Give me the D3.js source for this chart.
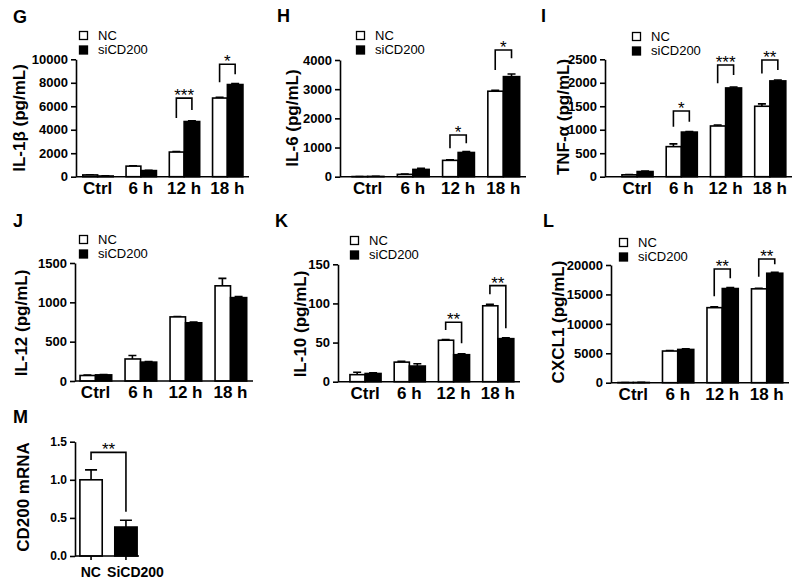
<!DOCTYPE html>
<html><head><meta charset="utf-8">
<script src="https://cdn.jsdelivr.net/npm/d3@7"></script>
<style>
html,body{margin:0;padding:0;background:#fff;}
svg{display:block;font-family:"Liberation Sans",Arial,Helvetica,sans-serif;}
</style></head>
<body>
<svg id="chart" width="799" height="583"></svg>
<script>
// ---------- DATA ----------
const categories = ["Ctrl", "6 h", "12 h", "18 h"];
const seriesNames = ["NC", "siCD200"];

// G: IL-1β
const il1bNC = [150, 900, 2100, 6700];
const il1bNCErr = [20, 30, 40, 60];
const il1bSi = [60, 520, 4700, 7850];
const il1bSiErr = [10, 20, 60, 80];
const il1bTicks = [0, 2000, 4000, 6000, 8000, 10000];
const il1bSig = [["12 h", "***", 6695, 5000, 5678], ["18 h", "*", 9576, 8051, 8729]];

// H: IL-6
const il6NC = [5, 80, 560, 2930];
const il6NCErr = [2, 10, 20, 30];
const il6Si = [10, 250, 830, 3430];
const il6SiErr = [3, 40, 30, 90];
const il6Ticks = [0, 1000, 2000, 3000, 4000];
const il6Sig = [["12 h", "*", 1429, 972, 1143], ["18 h", "*", 4343, 3657, 4057]];

// I: TNF-α
const tnfNC = [40, 640, 1080, 1500];
const tnfNCErr = [5, 60, 20, 50];
const tnfSi = [110, 950, 1890, 2040];
const tnfSiErr = [10, 10, 20, 20];
const tnfTicks = [0, 500, 1000, 1500, 2000, 2500];
const tnfSig = [["6 h", "*", 1399, 1065, 1171], ["12 h", "***", 2379, 1989, 2166], ["18 h", "**", 2485, 2200, 2272]];

// J: IL-12
const il12NC = [70, 280, 815, 1210];
const il12NCErr = [5, 45, 5, 95];
const il12Si = [78, 240, 740, 1060];
const il12SiErr = [3, 8, 8, 12];
const il12Ticks = [0, 500, 1000, 1500];
const il12Sig = [];

// K: IL-10
const il10NC = [9, 25, 53, 97];
const il10NCErr = [3, 1, 1, 2];
const il10Si = [10.5, 20, 34.5, 55];
const il10SiErr = [1, 3, 1, 1];
const il10Ticks = [0, 50, 100, 150];
const il10Sig = [["12 h", "**", 75.9, 66, 49], ["18 h", "**", 122.7, 111.7, 68.2]];

// L: CXCL1
const cxcl1NC = [30, 5380, 12750, 15950];
const cxcl1NCErr = [10, 80, 150, 100];
const cxcl1Si = [40, 5650, 16000, 18600];
const cxcl1SiErr = [10, 100, 150, 150];
const cxcl1Ticks = [0, 5000, 10000, 15000, 20000];
const cxcl1Sig = [["12 h", "**", 19320, 14670, 17740], ["18 h", "**", 21020, 18010, 20120]];

// M: CD200 mRNA
const mCategories = ["NC", "SiCD200"];
const mValues = [1.0, 0.38];
const mErr = [0.13, 0.09];
const mTicks = [0, 0.5, 1.0, 1.5];
const mSig = ["**", 1.36, 1.26, 0.58];

// ---------- LAYOUT ----------
const panels = [
  {letter:"G", lx:13, ly:23, title:"IL-1β (pg/mL)", tx:19, ty:118, axisX:76, b0:76, b1:249, yb:176.7, yt:59.3, max:10000, ticks:il1bTicks, nc:il1bNC, ncE:il1bNCErr, si:il1bSi, siE:il1bSiErr, sig:il1bSig, legX:79, legY:31},
  {letter:"H", lx:277, ly:22, title:"IL-6 (pg/mL)", tx:292, ty:118, axisX:340, b0:345, b1:526, yb:176.7, yt:60, max:4000, ticks:il6Ticks, nc:il6NC, ncE:il6NCErr, si:il6Si, siE:il6SiErr, sig:il6Sig, legX:356, legY:31},
  {letter:"I", lx:541, ly:22, title:"TNF-α (pg/mL)", tx:563, ty:117, axisX:605, b0:615, b1:792, yb:176.7, yt:59.3, max:2500, ticks:tnfTicks, nc:tnfNC, ncE:tnfNCErr, si:tnfSi, siE:tnfSiErr, sig:tnfSig, legX:632, legY:32},
  {letter:"J", lx:13, ly:227, title:"IL-12 (pg/mL)", tx:21, ty:323, axisX:75, b0:73, b1:253, yb:381, yt:263, max:1500, ticks:il12Ticks, nc:il12NC, ncE:il12NCErr, si:il12Si, siE:il12SiErr, sig:il12Sig, legX:79, legY:235},
  {letter:"K", lx:275, ly:227, title:"IL-10 (pg/mL)", tx:300, ty:324, axisX:338, b0:343, b1:520, yb:381.7, yt:264.3, max:150, ticks:il10Ticks, nc:il10NC, ncE:il10NCErr, si:il10Si, siE:il10SiErr, sig:il10Sig, legX:350, legY:236},
  {letter:"L", lx:543, ly:227, title:"CXCL1 (pg/mL)", tx:558, ty:322, axisX:611, b0:611, b1:789, yb:382.7, yt:265, max:20000, ticks:cxcl1Ticks, nc:cxcl1NC, ncE:cxcl1NCErr, si:cxcl1Si, siE:cxcl1SiErr, sig:cxcl1Sig, legX:619, legY:238}
];

const svg = d3.select("#chart");
const SW = 1.6;
const FONT = "Liberation Sans, Arial, sans-serif";

function drawBracket(g, xl, xr, yTop, yL, yR, label) {
  g.append("path")
    .attr("d", `M${xl},${yL}V${yTop}H${xr}V${yR}`)
    .attr("fill", "none").attr("stroke", "#000").attr("stroke-width", SW);
  g.append("text").attr("x", (xl + xr) / 2).attr("y", yTop + 3)
    .attr("text-anchor", "middle").attr("font-size", 17).text(label);
}

function yAxis(g, p, y, fmt, fs) {
  const ax = g.append("g").attr("transform", `translate(${p.axisX},0)`)
    .call(d3.axisLeft(y).tickValues(p.ticks).tickSize(5).tickSizeOuter(0).tickPadding(3).tickFormat(fmt));
  ax.select(".domain").attr("stroke-width", SW);
  ax.selectAll(".tick line").attr("stroke-width", SW);
  ax.selectAll("text").attr("font-size", fs).attr("font-weight", "bold").attr("fill", "#000")
    .attr("font-family", FONT);
}

function letterAndTitle(p) {
  svg.append("text").attr("x", p.lx).attr("y", p.ly).attr("font-size", 18).attr("font-weight", "bold").text(p.letter);
  svg.append("text").attr("transform", `translate(${p.tx},${p.ty}) rotate(-90)`)
    .attr("text-anchor", "middle").attr("dy", "0.36em").attr("font-size", 17).attr("font-weight", "bold").text(p.title);
}

panels.forEach(p => {
  const g = svg.append("g");
  letterAndTitle(p);
  const x = d3.scaleBand().domain(categories).range([p.b0, p.b1]).paddingInner(0.28).paddingOuter(0.14);
  const xs = d3.scaleBand().domain(seriesNames).range([0, x.bandwidth()]);
  const y = d3.scaleLinear().domain([0, p.max]).range([p.yb, p.yt]);

  const rows = categories.map((c, i) => ({c, vals: [
    {s: "NC", v: p.nc[i], e: p.ncE[i]},
    {s: "siCD200", v: p.si[i], e: p.siE[i]}
  ]}));

  // error bars (up only)
  rows.forEach(r => r.vals.forEach(d => {
    const cx = x(r.c) + xs(d.s) + xs.bandwidth() / 2;
    g.append("path").attr("d", `M${cx},${y(d.v)}V${y(d.v + d.e)}M${cx - 4},${y(d.v + d.e)}H${cx + 4}`)
      .attr("stroke", "#000").attr("stroke-width", SW).attr("fill", "none");
  }));
  // bars
  rows.forEach(r => r.vals.forEach(d => {
    g.append("rect")
      .attr("x", x(r.c) + xs(d.s) + (d.s === "NC" ? 0.75 : 0))
      .attr("y", y(d.v))
      .attr("width", xs.bandwidth() - (d.s === "NC" ? 0.75 : 0))
      .attr("height", Math.max(0, y(0) - y(d.v)))
      .attr("fill", d.s === "NC" ? "#fff" : "#000")
      .attr("stroke", "#000").attr("stroke-width", SW);
  }));

  yAxis(g, p, y, d3.format("d"), 13);

  // x axis
  const xa = g.append("g").attr("transform", `translate(0,${p.yb})`)
    .call(d3.axisBottom(x).tickSize(0).tickPadding(5));
  xa.select(".domain").remove();
  xa.selectAll("text").attr("font-size", 17).attr("font-weight", "bold").attr("fill", "#000")
    .attr("font-family", FONT);
  g.append("line").attr("x1", p.axisX).attr("x2", x.range()[1]).attr("y1", p.yb).attr("y2", p.yb)
    .attr("stroke", "#000").attr("stroke-width", SW);

  // significance brackets
  p.sig.forEach(s => {
    const xl = x(s[0]) + xs("NC") + xs.bandwidth() / 2;
    const xr = x(s[0]) + xs("siCD200") + xs.bandwidth() / 2;
    drawBracket(g, xl, xr, y(s[2]), y(s[3]), y(s[4]), s[1]);
  });

  // legend
  const lg = g.append("g").attr("transform", `translate(${p.legX},${p.legY})`);
  seriesNames.forEach((n, i) => {
    lg.append("rect").attr("x", 0.5).attr("y", i * 14.5 + 0.5).attr("width", 8).attr("height", 8)
      .attr("fill", i === 0 ? "#fff" : "#000").attr("stroke", "#000").attr("stroke-width", 1.3);
    lg.append("text").attr("x", 19).attr("y", i * 14.5 + 8.5).attr("font-size", 13).text(n);
  });
});

// ---------- Panel M ----------
(function () {
  const p = {letter:"M", lx:13, ly:423, title:"CD200 mRNA", tx:23, ty:497, axisX:75, yb:556, yt:441.7, ticks:mTicks};
  letterAndTitle(p);
  const g = svg.append("g");
  const x = d3.scaleBand().domain(mCategories).range([75, 142]).paddingInner(0.36).paddingOuter(0.14);
  const y = d3.scaleLinear().domain([0, 1.5]).range([p.yb, p.yt]);
  mCategories.forEach((c, i) => {
    const cx = x(c) + x.bandwidth() / 2;
    g.append("path").attr("d", `M${cx},${y(mValues[i])}V${y(mValues[i] + mErr[i])}M${cx - 6},${y(mValues[i] + mErr[i])}H${cx + 6}`)
      .attr("stroke", "#000").attr("stroke-width", SW).attr("fill", "none");
    g.append("rect").attr("x", x(c)).attr("y", y(mValues[i])).attr("width", x.bandwidth())
      .attr("height", y(0) - y(mValues[i])).attr("fill", i === 0 ? "#fff" : "#000")
      .attr("stroke", "#000").attr("stroke-width", SW);
  });
  yAxis(g, p, y, d3.format(".1f"), 12);
  const xa = g.append("g").attr("transform", `translate(0,${p.yb})`)
    .call(d3.axisBottom(x).tickSize(4).tickSizeOuter(0).tickPadding(7));
  xa.select(".domain").remove();
  xa.selectAll(".tick line").attr("stroke-width", SW);
  xa.selectAll("text").attr("font-size", 14).attr("font-weight", "bold").attr("fill", "#000")
    .attr("font-family", FONT)
    .attr("text-anchor", (d, i) => i === 0 ? "end" : "start")
    .attr("dx", (d, i) => i === 0 ? "0.7em" : "-1.35em");
  g.append("line").attr("x1", p.axisX).attr("x2", x.range()[1] - 3).attr("y1", p.yb).attr("y2", p.yb)
    .attr("stroke", "#000").attr("stroke-width", SW);
  const xl = x(mCategories[0]) + x.bandwidth() / 2, xr = x(mCategories[1]) + x.bandwidth() / 2;
  drawBracket(g, xl, xr, y(mSig[1]), y(mSig[2]), y(mSig[3]), mSig[0]);
})();
</script>
</body></html>
